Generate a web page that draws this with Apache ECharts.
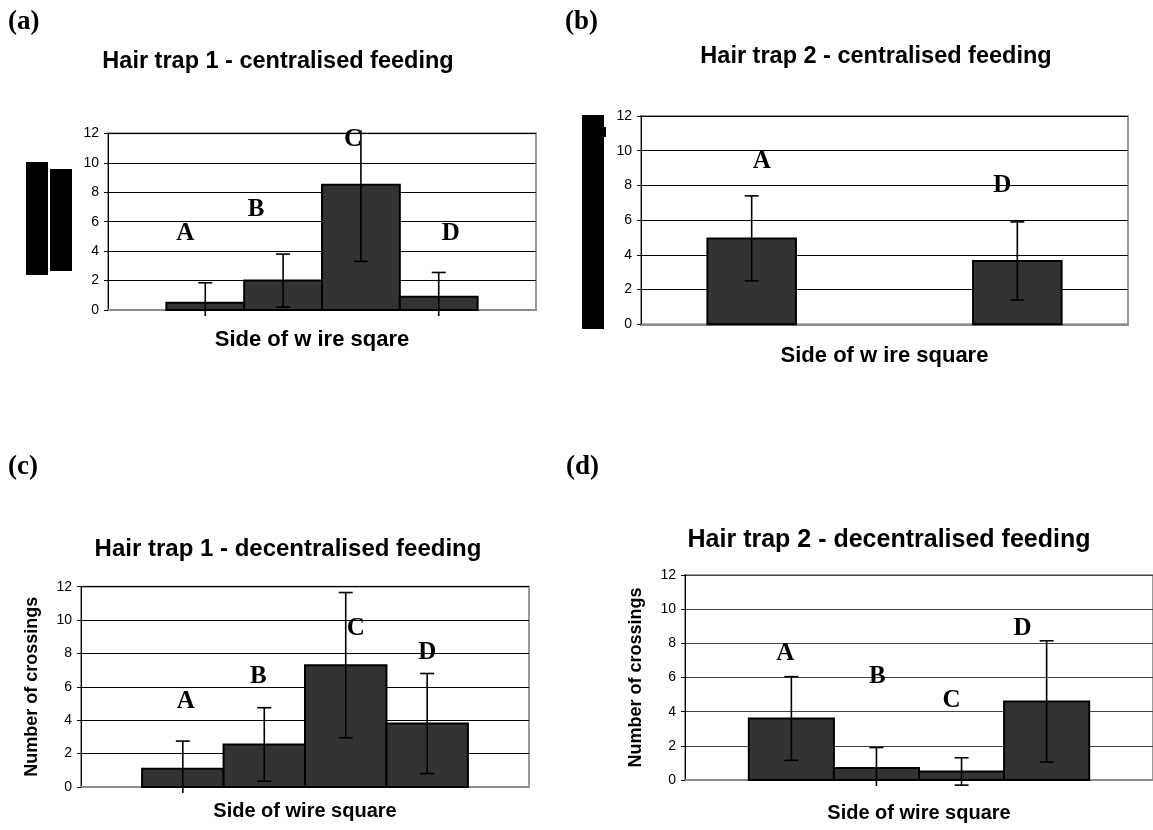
<!DOCTYPE html>
<html>
<head>
<meta charset="utf-8">
<script src="https://cdn.jsdelivr.net/npm/echarts@6/dist/echarts.min.js"></script>
<style>
  html, body { margin: 0; padding: 0; background: #fff; }
  #chart { width: 1153px; height: 830px; }
</style>
</head>
<body>
<div id="chart"></div>
<script>
// Sides of the wire square, one bar per side
const sides = ['A', 'B', 'C', 'D'];

// Mean number of crossings per side, and the error (± half-length) of each bar
const trap1CentralMean = [0.5, 2.0, 8.5, 0.9];
const trap1CentralErr  = [1.35, 1.8, 5.2, 1.65];
const trap2CentralMean = [4.95, null, null, 3.65];
const trap2CentralErr  = [2.45, null, null, 2.25];
const trap1DecentralMean = [1.1, 2.55, 7.3, 3.8];
const trap1DecentralErr  = [1.65, 2.2, 4.35, 3.0];
const trap2DecentralMean = [3.6, 0.7, 0.5, 4.6];
const trap2DecentralErr  = [2.45, 1.2, 0.8, 3.55];

// Height (in crossings) at which each side letter is written
const trap1CentralLetterY   = [5.2, 6.8, 11.6, 5.2];
const trap2CentralLetterY   = [9.4, null, null, 8.0];
const trap1DecentralLetterY = [5.1, 6.6, 9.5, 8.05];
const trap2DecentralLetterY = [7.4, 6.05, 4.65, 8.85];

// Y axis ticks
const yMin = 0, yMax = 12, yStep = 2;

const titles = [
  'Hair trap 1 - centralised feeding',
  'Hair trap 2 - centralised feeding',
  'Hair trap 1 - decentralised feeding',
  'Hair trap 2 - decentralised feeding'
];
const xTitles = ['Side of w ire sqare', 'Side of w ire square', 'Side of wire square', 'Side of wire square'];
const yTitle = 'Number of crossings';

const panels = [
  { mean: trap1CentralMean, err: trap1CentralErr, letterY: trap1CentralLetterY },
  { mean: trap2CentralMean, err: trap2CentralErr, letterY: trap2CentralLetterY },
  { mean: trap1DecentralMean, err: trap1DecentralErr, letterY: trap1DecentralLetterY },
  { mean: trap2DecentralMean, err: trap2DecentralErr, letterY: trap2DecentralLetterY }
];

// Layout: plot rectangles, letter nudges (px), axis title gaps and sizes
const layout = [
  { left: 108, top: 133.3, width: 428, height: 176.7, gridColor: '#000', yTitle: false,
    xGap: 19, xSize: 22, xPad: [0, 20, 0, 0], nudge: [-20, -27, -8, 12] },
  { left: 641, top: 116, width: 487, height: 208.3, gridColor: '#000', yTitle: false,
    xGap: 21, xSize: 22, xPad: [0, 0, 0, 0], nudge: [10, 0, 0, -15] },
  { left: 81, top: 586.7, width: 448, height: 200.3, gridColor: '#000', yTitle: true,
    xGap: 14, xSize: 20, xPad: [0, 0, 0, 0], nudge: [3, -6, 10, 0] },
  { left: 685, top: 575, width: 475, height: 205, gridColor: '#444', yTitle: true,
    xGap: 23, xSize: 20, xPad: [0, 0, 0, 0], nudge: [-6, 1, -10, -24] }
];

const sansFont = '"Liberation Sans", Arial, sans-serif';
const serifFont = '"Liberation Serif", "Times New Roman", serif';

const grids = [], xAxes = [], yAxes = [], series = [];

layout.forEach((L, p) => {
  grids.push({
    left: L.left, top: L.top, width: L.width, height: L.height,
    show: true, borderColor: '#9a9a9a', borderWidth: 2, backgroundColor: 'transparent'
  });
  xAxes.push({
    gridIndex: p, type: 'value', min: -1.25, max: 4.25,
    axisLine: { show: true, onZero: false, lineStyle: { color: '#8c8c8c', width: 2 } },
    axisTick: { show: false }, axisLabel: { show: false }, splitLine: { show: false },
    name: xTitles[p], nameLocation: 'middle', nameGap: L.xGap,
    nameTextStyle: { fontFamily: sansFont, fontWeight: 'bold', fontSize: L.xSize, color: '#000', padding: L.xPad }
  });
  yAxes.push({
    gridIndex: p, type: 'value', min: yMin, max: yMax, interval: yStep,
    axisLine: { show: true, onZero: false, lineStyle: { color: '#000', width: 1 } },
    axisTick: { show: true, inside: false, length: 4, lineStyle: { color: '#000', width: 1 } },
    axisLabel: { fontFamily: sansFont, fontSize: 14, color: '#000', margin: 9 },
    splitLine: { show: true, lineStyle: { color: L.gridColor, width: 1 } },
    name: L.yTitle ? yTitle : '', nameLocation: 'middle', nameGap: 40, nameRotate: 90,
    nameTextStyle: { fontFamily: sansFont, fontWeight: 'bold', fontSize: 18, color: '#000' }
  });

  const P = panels[p];
  const rows = sides.map((s, i) => [i, P.mean[i], P.err[i], P.letterY[i]]);

  // Bars
  series.push({
    type: 'custom', xAxisIndex: p, yAxisIndex: p, z: 3,
    data: rows.filter(r => r[1] != null),
    renderItem(params, api) {
      const i = api.value(0), v = api.value(1);
      const a = api.coord([i - 0.5, v]);
      const b = api.coord([i + 0.5, 0]);
      return {
        type: 'rect',
        shape: { x: a[0], y: a[1], width: b[0] - a[0], height: b[1] - a[1] },
        style: { fill: '#333333', stroke: '#000', lineWidth: 2 }
      };
    }
  });

  // Error bars, clipped just outside the plot area
  series.push({
    type: 'custom', xAxisIndex: p, yAxisIndex: p, z: 4,
    data: rows.filter(r => r[1] != null),
    renderItem(params, api) {
      const i = api.value(0), v = api.value(1), e = api.value(2);
      const x = api.coord([i, v])[0];
      const yHi = api.coord([i, v + e])[1];
      const yLo = api.coord([i, v - e])[1];
      const clipTop = api.coord([i, yMax])[1] - 3;
      const clipBot = api.coord([i, yMin])[1] + 6;
      const top = Math.max(yHi, clipTop), bot = Math.min(yLo, clipBot);
      const st = { stroke: '#000', lineWidth: 1.6 };
      const kids = [{ type: 'line', shape: { x1: x, y1: top, x2: x, y2: bot }, style: st }];
      const cap = 7;
      if (yHi >= clipTop) kids.push({ type: 'line', shape: { x1: x - cap, y1: yHi, x2: x + cap, y2: yHi }, style: st });
      if (yLo <= clipBot) kids.push({ type: 'line', shape: { x1: x - cap, y1: yLo, x2: x + cap, y2: yLo }, style: st });
      return { type: 'group', children: kids };
    }
  });

  // Side letters
  series.push({
    type: 'custom', xAxisIndex: p, yAxisIndex: p, z: 5,
    data: rows.filter(r => r[3] != null),
    renderItem(params, api) {
      const i = api.value(0), ly = api.value(3);
      const pt = api.coord([i, ly]);
      return {
        type: 'text',
        x: pt[0] + L.nudge[i], y: pt[1],
        style: {
          text: sides[i], fill: '#000', font: 'bold 25px ' + serifFont,
          align: 'center', verticalAlign: 'middle'
        }
      };
    }
  });
});

const panelLetters = [
  { t: '(a)', x: 8, y: 22 }, { t: '(b)', x: 565, y: 22 },
  { t: '(c)', x: 8, y: 467 }, { t: '(d)', x: 566, y: 467 }
];
const titleStyle = [
  { x: 278, y: 62, size: 23.5 }, { x: 876, y: 57, size: 23.5 },
  { x: 288, y: 549, size: 24 }, { x: 889, y: 540, size: 25 }
];

const graphics = [];
panelLetters.forEach(o => graphics.push({
  type: 'text', x: o.x, y: o.y,
  style: { text: o.t, font: 'bold 27px ' + serifFont, fill: '#000', verticalAlign: 'middle' }
}));
titles.forEach((t, k) => graphics.push({
  type: 'text', x: titleStyle[k].x, y: titleStyle[k].y,
  style: { text: t, font: 'bold ' + titleStyle[k].size + 'px ' + sansFont, fill: '#000', align: 'center', verticalAlign: 'middle' }
}));
// Solid blocks over the y-axis titles of the two upper panels
[[26, 162, 22, 113], [50, 169, 22, 102], [582, 115, 22, 214], [604, 127, 2, 10]].forEach(r => graphics.push({
  type: 'rect', shape: { x: r[0], y: r[1], width: r[2], height: r[3] }, style: { fill: '#000' }, z: 10
}));

const chart = echarts.init(document.getElementById('chart'), null, { renderer: 'canvas' });
chart.setOption({
  animation: false,
  backgroundColor: '#fff',
  grid: grids, xAxis: xAxes, yAxis: yAxes, series: series,
  graphic: graphics
});
</script>
</body>
</html>
